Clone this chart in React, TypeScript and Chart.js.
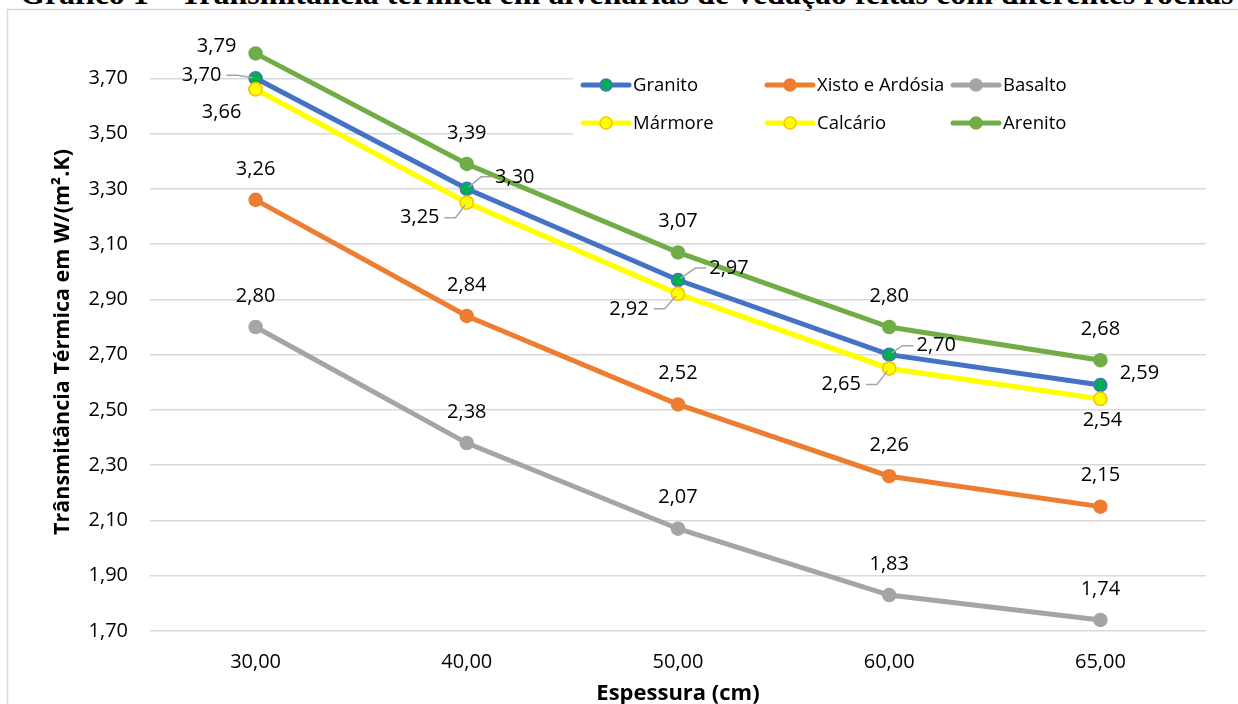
import React, { useEffect, useRef } from "react";
import { Chart, registerables } from "chart.js";

Chart.register(...registerables);

// ---- data ----
const categories = ["30,00", "40,00", "50,00", "60,00", "65,00"];
const seriesNames = ["Granito", "Xisto e Ardósia", "Basalto", "Mármore", "Calcário", "Arenito"];
const granito = [3.7, 3.3, 2.97, 2.7, 2.59];
const xisto = [3.26, 2.84, 2.52, 2.26, 2.15];
const basalto = [2.8, 2.38, 2.07, 1.83, 1.74];
const marmore = [3.66, 3.25, 2.92, 2.65, 2.54];
const calcario = [3.66, 3.25, 2.92, 2.65, 2.54];
const arenito = [3.79, 3.39, 3.07, 2.8, 2.68];
const yMin = 1.7;
const yMax = 3.9;
const yStep = 0.2;

const titleText = "Gráfico 1 – Transmitância térmica em alvenarias de vedação feitas com diferentes rochas";
const yTitle = "Trânsmitância Térmica em W/(m².K)";
const xTitle = "Espessura (cm)";

// ---- styles ----
const FONT = "'Open Sans', 'Noto Sans', sans-serif";
const lineColors = ["#4472C4", "#ED7D31", "#A5A5A5", "#FFFF00", "#FFFF00", "#70AD47"];
const pointFills = ["#00B050", "#ED7D31", "#A5A5A5", "#FFFF00", "#FFFF00", "#70AD47"];
const pointBorders = ["#4472C4", "#ED7D31", "#A5A5A5", "#FFC000", "#FFC000", "#70AD47"];
const drawOrder = [5, 4, 3, 2, 1, 0];

// label offsets [dx, dy, leader(1/0)] per series per point; null = no labels
const labelOffsets: (number[][] | null)[] = [
  [[-54, -3, 1], [48, -12, 1], [51, -12, 1], [47, -9, 1], [39, -12, 0]],
  [[0, -31, 0], [0, -31, 0], [0, -31, 0], [0, -31, 0], [0, -31, 0]],
  [[0, -31, 0], [0, -31, 0], [0, -31, 0], [0, -31, 0], [0, -31, 0]],
  [[-34, 23, 0], [-47, 15, 1], [-49, 15, 1], [-48, 16, 1], [2, 21, 0]],
  null,
  [[-39, -7, 0], [0, -31, 0], [0, -31, 0], [0, -31, 0], [0, -31, 0]],
];

const legendCols = [583, 767, 953];
const legendRows = [85, 123];

const fmt = (v: number) => v.toFixed(2).replace(".", ",");

const framePlugin = {
  id: "frame",
  beforeDraw(chart: any) {
    const { ctx } = chart;
    ctx.save();
    ctx.strokeStyle = "#d9d9d9";
    ctx.lineWidth = 1.5;
    ctx.beginPath();
    ctx.moveTo(7.5, 800);
    ctx.lineTo(7.5, 9.5);
    ctx.lineTo(1300, 9.5);
    ctx.stroke();
    ctx.restore();
  },
};

const labelPlugin = {
  id: "dataLabels",
  afterDatasetsDraw(chart: any) {
    const { ctx } = chart;
    ctx.save();
    ctx.font = `20px ${FONT}`;
    ctx.fillStyle = "#000";
    ctx.textAlign = "center";
    ctx.textBaseline = "middle";
    chart.data.datasets.forEach((ds: any, di: number) => {
      const offs = labelOffsets[di];
      if (!offs) return;
      const meta = chart.getDatasetMeta(di);
      meta.data.forEach((pt: any, i: number) => {
        const [dx, dy, leader] = offs[i];
        const txt = fmt(ds.data[i]);
        const lx = pt.x + dx;
        const ly = pt.y + dy;
        if (leader) {
          const w = ctx.measureText(txt).width;
          let x1: number, x2: number;
          if (dx > 0) {
            x1 = lx - w / 2 - 3;
            x2 = x1 - 11;
          } else {
            x1 = lx + w / 2 + 5;
            x2 = x1 + 11;
          }
          const vx = x2 - pt.x;
          const vy = ly - pt.y;
          const len = Math.hypot(vx, vy) || 1;
          ctx.save();
          ctx.strokeStyle = "#a6a6a6";
          ctx.lineWidth = 1.5;
          ctx.beginPath();
          ctx.moveTo(x1, ly);
          ctx.lineTo(x2, ly);
          ctx.lineTo(pt.x + (vx / len) * 3, pt.y + (vy / len) * 3);
          ctx.stroke();
          ctx.restore();
        }
        ctx.fillText(txt, lx, ly);
      });
    });
    ctx.restore();
  },
};

const legendPlugin = {
  id: "customLegend",
  afterDraw(chart: any) {
    const { ctx } = chart;
    ctx.save();
    ctx.fillStyle = "#fff";
    ctx.fillRect(573, 62, 660, 82);
    ctx.font = `18.5px ${FONT}`;
    ctx.textAlign = "left";
    ctx.textBaseline = "middle";
    seriesNames.forEach((name, i) => {
      const x = legendCols[i % 3];
      const y = legendRows[Math.floor(i / 3)];
      ctx.strokeStyle = lineColors[i];
      ctx.lineWidth = 5;
      ctx.lineCap = "round";
      ctx.beginPath();
      ctx.moveTo(x, y);
      ctx.lineTo(x + 46, y);
      ctx.stroke();
      ctx.beginPath();
      ctx.arc(x + 23, y, 6, 0, Math.PI * 2);
      ctx.fillStyle = pointFills[i];
      ctx.fill();
      ctx.lineWidth = 1.5;
      ctx.strokeStyle = pointBorders[i];
      ctx.stroke();
      ctx.fillStyle = "#000";
      ctx.fillText(name, x + 50, y + 1);
    });
    ctx.restore();
  },
};

const axisTitlePlugin = {
  id: "axisTitles",
  afterDraw(chart: any) {
    const { ctx, chartArea } = chart;
    ctx.save();
    ctx.fillStyle = "#000";
    ctx.textAlign = "center";
    ctx.textBaseline = "middle";
    ctx.font = `bold 22px ${FONT}`;
    ctx.fillText(xTitle, (chartArea.left + chartArea.right) / 2, 694);
    ctx.font = `bold 21.5px ${FONT}`;
    ctx.translate(63, 342);
    ctx.rotate(-Math.PI / 2);
    ctx.fillText(yTitle, 0, 0);
    ctx.restore();
  },
};

export default function App() {
  const ref = useRef<HTMLCanvasElement>(null);

  useEffect(() => {
    const canvas = ref.current;
    if (!canvas) return;
    const seriesData = [granito, xisto, basalto, marmore, calcario, arenito];
    const chart = new Chart(canvas, {
      type: "line",
      data: {
        labels: categories,
        datasets: seriesData.map((d, i) => ({
          label: seriesNames[i],
          data: d,
          borderColor: lineColors[i],
          backgroundColor: pointFills[i],
          borderWidth: 5,
          pointRadius: 6.5,
          pointBorderWidth: 1.5,
          pointBackgroundColor: pointFills[i],
          pointBorderColor: pointBorders[i],
          tension: 0,
          fill: false,
          order: drawOrder[i],
        })),
      },
      options: {
        responsive: false,
        maintainAspectRatio: false,
        animation: false,
        layout: { padding: { left: 8, right: 32, top: 23, bottom: 0 } },
        plugins: {
          legend: { display: false },
          tooltip: { enabled: false },
          title: { display: false },
        },
        scales: {
          x: {
            offset: true,
            grid: { display: false, drawTicks: false },
            border: { display: false },
            ticks: {
              color: "#000",
              font: { family: FONT, size: 20 },
              padding: 19,
              maxRotation: 0,
              autoSkip: false,
            },
            afterFit: (s: any) => {
              s.height = 73;
              s.paddingLeft = 0;
              s.paddingRight = 0;
            },
          },
          y: {
            min: yMin,
            max: yMax,
            border: { display: false },
            grid: {
              drawTicks: false,
              lineWidth: 1.5,
              color: (c: any) =>
                c.tick && Math.abs(c.tick.value - yMax) < 1e-6 ? "rgba(0,0,0,0)" : "#d9d9d9",
            },
            ticks: {
              stepSize: yStep,
              color: "#000",
              font: { family: FONT, size: 20 },
              padding: 22,
              callback: (v: any) => (Math.abs(Number(v) - yMax) < 1e-6 ? "" : fmt(Number(v))),
            },
            afterFit: (s: any) => {
              s.width = 142;
              s.paddingTop = 0;
              s.paddingBottom = 0;
            },
          },
        },
      },
      plugins: [framePlugin, labelPlugin, legendPlugin, axisTitlePlugin],
    });
    return () => chart.destroy();
  }, []);

  return (
    <div
      style={{
        position: "fixed",
        left: 0,
        top: 0,
        width: 1238,
        height: 704,
        overflow: "hidden",
        background: "#fff",
      }}
    >
      <div
        style={{
          position: "absolute",
          left: 20,
          top: -23,
          fontFamily: "'Liberation Serif', 'Times New Roman', serif",
          fontWeight: "bold",
          fontSize: 32,
          lineHeight: "32px",
          whiteSpace: "nowrap",
          color: "#000",
        }}
      >
        {titleText}
      </div>
      <canvas
        ref={ref}
        width={1238}
        height={704}
        style={{ position: "absolute", left: 0, top: 0, width: 1238, height: 704 }}
      />
    </div>
  );
}
